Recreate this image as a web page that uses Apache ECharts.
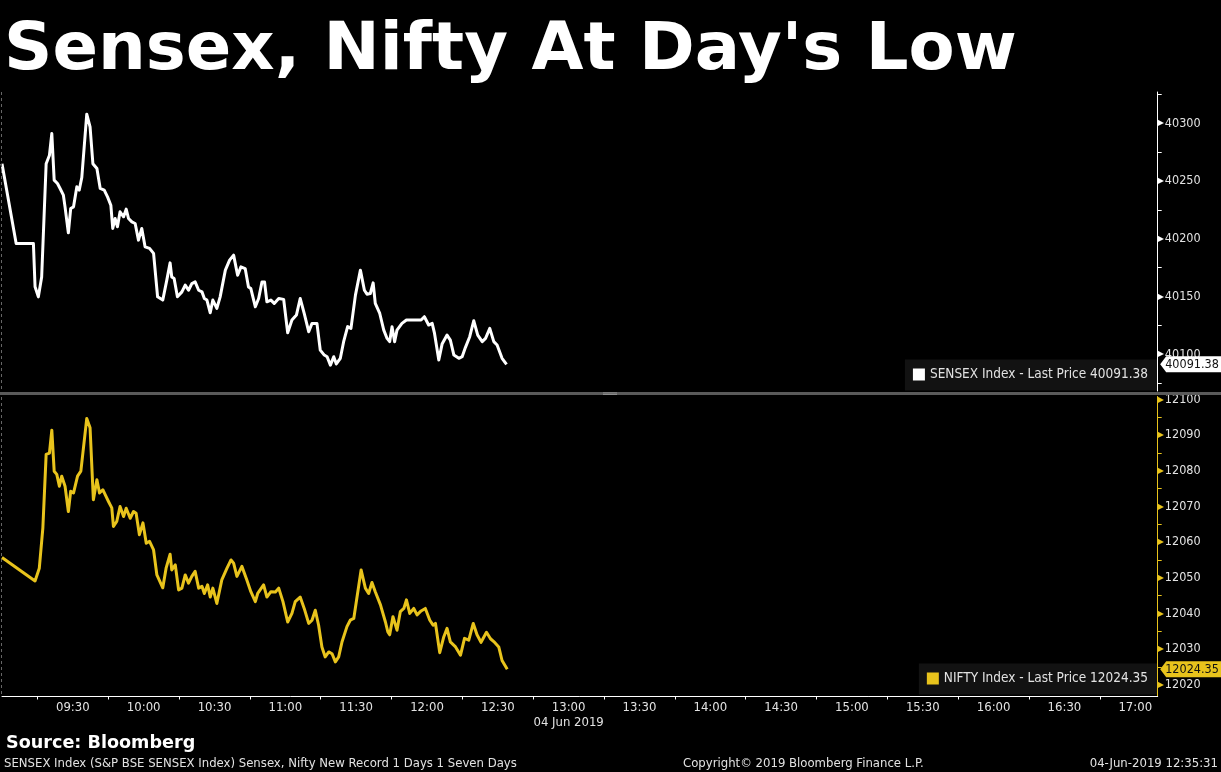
<!DOCTYPE html>
<html>
<head>
<meta charset="utf-8">
<script src="https://cdn.jsdelivr.net/npm/echarts@6/dist/echarts.min.js"></script>
<style>
html,body{margin:0;padding:0;background:#000;}
#chart{width:1221px;height:772px;}
</style>
</head>
<body>
<div id="chart"></div>
<script>
// ---- DATA (times are minutes since midnight, 04 Jun 2019) ----
const sensexTimes = [540,546.0,553.3,554.0,555.4,556.8,558.7,560.1,561.1,562.1,563.5,564.6,566.0,566.7,568.1,569.1,570.3,571.7,572.7,573.8,575.9,577.3,578.5,580.2,581.6,583.3,584.7,586.1,586.9,587.9,588.9,590.0,591.5,592.6,593.6,595.0,596.4,597.8,599.2,600.6,602.5,604.2,605.9,608.1,609.8,611.2,611.9,612.9,614.3,616.2,617.6,619.0,620.4,621.8,623.3,624.7,625.7,626.8,628.2,629.3,631.0,632.4,634.6,636.4,638.1,639.8,641.2,643.0,644.4,645.4,647.3,648.7,650.1,651.2,652.2,653.9,655.3,657.2,659.3,661.0,662.8,664.7,666.3,668.0,669.9,671.3,673.4,674.8,676.5,677.7,679.1,680.5,681.6,683.3,684.7,686.4,687.8,689.7,691.8,693.5,694.6,696.0,697.2,698.1,700.0,701.7,703.1,704.2,705.2,706.3,707.3,709.4,711.3,714.4,717.5,718.9,720.7,722.2,723.2,725.0,726.4,728.5,729.9,731.4,733.5,734.9,736.3,738.1,739.8,741.5,743.4,744.8,746.6,748.3,749.7,751.8,753.7];
const sensexValues = [40265,40196,40196,40158.5,40149.8,40167,40265,40272.4,40291.2,40250.8,
40247.9,40243.6,40237.8,40227.7,40205.2,40226.3,40227.7,40245,40242.2,40253.1,
40307.9,40296.9,40265,40260.9,40243.6,40242.2,40236.3,40229.1,40209,40217.6,
40210.4,40223.4,40219.1,40225.7,40217.6,40214.7,40213.3,40198.9,40209,40193.1,
40191.7,40187.4,40149.8,40147,40164.3,40179.2,40167,40165.6,40149.8,40154.1,
40159.9,40155.5,40161.3,40162.7,40155.5,40154.1,40148.4,40147,40136,40147,
40139.8,40149.8,40172.9,40181.6,40185.9,40168.5,40175.7,40174.3,40158.4,40157,
40141.2,40148.4,40162.7,40162.7,40145.5,40147,40144.1,40148.4,40147.6,40118.7,
40129.7,40134,40148.4,40135.4,40119.6,40126.8,40126.8,40103.7,40099.4,40098,
40090.7,40098,40091.7,40096.6,40111,40124,40122.5,40151.3,40172.9,40155.5,
40152.1,40152.7,40161.9,40144.1,40135.4,40121,40113.8,40111,40124,40111,
40121,40126.8,40129.7,40129.7,40129.7,40132.6,40125.4,40126.8,40118.1,40095.1,
40108.9,40116.7,40112.4,40099.4,40096.6,40098,40106.1,40115.3,40129.1,40116.7,
40111,40113.8,40122.5,40111,40108.1,40096.6,40091.38];

const niftyTimes = [540,554.0,555.8,557.3,558.7,560.1,561.1,562.1,563.2,564.3,565.3,566.7,568.1,569.1,570.3,572.0,573.4,575.9,577.3,578.7,580.2,581.3,582.7,583.7,585.1,586.5,587.2,588.6,590.0,591.5,592.6,594.3,595.7,596.8,598.2,599.7,601.1,602.5,604.2,605.6,608.1,609.5,611.2,611.9,613.4,614.8,616.2,617.6,619.0,620.4,621.8,623.3,624.7,625.7,627.1,628.2,629.3,631.0,633.1,635.3,637.0,638.1,639.5,641.6,643.7,645.4,647.3,648.3,650.8,652.2,653.9,655.8,657.2,659.0,661.0,662.8,664.2,666.3,668.0,669.9,671.3,672.7,674.1,675.5,676.9,678.4,679.8,681.2,682.6,684.0,686.1,687.5,689.0,692.1,693.9,695.3,696.7,698.1,700.3,702.4,703.4,704.2,705.6,707.3,708.7,710.2,711.3,712.7,714.4,715.8,717.5,719.3,721.2,722.6,723.6,725.4,727.1,728.5,729.9,732.1,734.2,735.9,737.7,739.6,741.2,742.9,745.2,746.9,748.3,750.4,751.8,754.0];
const niftyValues = [12055.7,12049.1,12052.7,12063.9,12084.6,12085,12091.4,12079.9,12079,12075.7,
12078.5,12075.7,12068.6,12074.3,12073.8,12078.5,12079.9,12094.7,12092.1,12071.9,
12077.5,12073.8,12074.7,12073.3,12071.4,12069.6,12064.4,12065.8,12070,12067.2,
12069.5,12066.7,12068.6,12068.1,12062.1,12065.4,12059.7,12060.2,12057.8,12050.8,
12047.2,12052.7,12056.6,12052.2,12053.6,12046.6,12047.1,12050.8,12048.5,12050.4,
12051.8,12047.1,12047.6,12045.6,12048,12044.6,12047.1,12042.8,12049.4,12052.7,
12055,12054.1,12050.4,12053.2,12049.4,12046.1,12043.3,12045.6,12048,12044.6,
12046.1,12046,12047.1,12043.3,12037.6,12040,12043.3,12044.6,12041.4,12037.2,
12038.1,12040.9,12036.7,12030.6,12027.8,12029.2,12028.7,12026.4,12027.8,12032,
12036.3,12038.1,12038.6,12052.2,12047.1,12045.6,12048.7,12046.1,12042.4,12037.6,
12034.9,12034,12039.1,12035.3,12040.5,12041.4,12043.8,12040,12041.4,12039.6,
12040.7,12041.4,12038.1,12036.7,12037.2,12029,12033.4,12035.8,12032,12030.6,
12028.3,12033,12032.5,12037.2,12034,12031.9,12034.7,12032.9,12032.1,12030.6,
12026.8,12024.35];

// axis ticks / labels
const timeLabels = [570,600,630,660,690,720,750,780,810,840,870,900,930,960,990,1020];
const timeTicks = [555,585,615,645,675,705,735,765,795,825,855,885,915,945,975,1005];
const sensexLabels = [40100,40150,40200,40250,40300];
const sensexTicks = [40075,40100,40125,40150,40175,40200,40225,40250,40275,40300,40325];
const niftyLabels = [12020,12030,12040,12050,12060,12070,12080,12090,12100];
const niftyTicks = [12020,12025,12030,12035,12040,12045,12050,12055,12060,12065,12070,12075,12080,12085,12090,12095,12100];

const titleText = "Sensex, Nifty At Day's Low";
const sourceText = 'Source: Bloomberg';
const footerLeft = 'SENSEX Index (S&P BSE SENSEX Index) Sensex, Nifty New Record 1 Days 1 Seven Days';
const footerMid = 'Copyright\u00A9 2019 Bloomberg Finance L.P.';
const footerRight = '04-Jun-2019 12:35:31';
const dateLabel = '04 Jun 2019';

// ---- CHART ----
const WHITE = '#ffffff';
const YELLOW = '#e8c31c';
const TXT = '#e2e2e2';
const FONT = '"DejaVu Sans Condensed", "DejaVu Sans", sans-serif';
const SMALL = '13px "DejaVu Sans Condensed", "DejaVu Sans"';

function zip(a, b) { return a.map((t, i) => [t, b[i]]); }
function hhmm(v) {
  const h = Math.floor(v / 60), m = Math.round(v % 60);
  return String(h).padStart(2, '0') + ':' + String(m).padStart(2, '0');
}
const sensexLast = sensexValues[sensexValues.length - 1];
const niftyLast = niftyValues[niftyValues.length - 1];

const chart = echarts.init(document.getElementById('chart'), null, { renderer: 'canvas' });

function yAxisDef(grid, min, max, ticks, labels, color) {
  return {
    type: 'value', gridIndex: grid, position: 'right', min: min, max: max,
    axisLine: { show: true, lineStyle: { color: color, width: 1 } },
    axisTick: { show: true, customValues: ticks, length: 4, inside: false, lineStyle: { color: color, width: 1 } },
    axisLabel: {
      customValues: labels, margin: 0, fontFamily: FONT,
      formatter: v => '{t|\u25B6}{v|' + v + '}',
      rich: {
        t: { color: color, fontSize: 8, fontFamily: 'DejaVu Sans' },
        v: { color: TXT, fontSize: 12.5, fontFamily: FONT, padding: [0, 0, 0, 1] }
      }
    },
    splitLine: { show: false }
  };
}

const legendBase = {
  right: 64, orient: 'horizontal', backgroundColor: '#121212', padding: [8, 9, 9, 8],
  icon: 'rect', itemWidth: 12, itemHeight: 12, selectedMode: false,
  textStyle: { color: TXT, fontSize: 13.5, fontFamily: FONT }
};

const option = {
  backgroundColor: '#000',
  animation: false,
  textStyle: { fontFamily: FONT },
  grid: [
    { left: 2, right: 63.3, top: 92, height: 299 },
    { left: 2, right: 63.3, top: 396.5, height: 300 }
  ],
  xAxis: [
    { type: 'value', gridIndex: 0, min: 540, max: 1029.5,
      axisLine: { show: false }, axisTick: { show: false }, axisLabel: { show: false }, splitLine: { show: false } },
    { type: 'value', gridIndex: 1, min: 540, max: 1029.5,
      axisLine: { show: true, onZero: false, lineStyle: { color: WHITE, width: 1 } },
      axisTick: { show: true, customValues: timeTicks, length: 3, lineStyle: { color: WHITE } },
      axisLabel: {
        customValues: timeLabels, margin: 4, color: TXT, fontSize: 13, fontFamily: FONT, lineHeight: 15,
        formatter: v => v === 780 ? hhmm(v) + '\n' + dateLabel : hhmm(v)
      },
      splitLine: { show: false } }
  ],
  yAxis: [
    yAxisDef(0, 40068.3, 40327.1, sensexTicks, sensexLabels, WHITE),
    yAxisDef(1, 12016.7, 12100.85, niftyTicks, niftyLabels, YELLOW)
  ],
  legend: [
    Object.assign({}, legendBase, { data: ['SENSEX Index'], top: 359.5,
      formatter: n => n + ' - Last Price ' + sensexLast.toFixed(2) }),
    Object.assign({}, legendBase, { data: ['NIFTY Index'], top: 663.5,
      formatter: n => n + ' - Last Price ' + niftyLast.toFixed(2) })
  ],
  series: [
    { name: 'SENSEX Index', type: 'line', xAxisIndex: 0, yAxisIndex: 0,
      data: zip(sensexTimes, sensexValues), showSymbol: false, symbol: 'none',
      itemStyle: { color: WHITE }, lineStyle: { color: WHITE, width: 3, join: 'round' }, z: 3 },
    { name: 'NIFTY Index', type: 'line', xAxisIndex: 1, yAxisIndex: 1,
      data: zip(niftyTimes, niftyValues), showSymbol: false, symbol: 'none',
      itemStyle: { color: YELLOW }, lineStyle: { color: YELLOW, width: 3, join: 'round' }, z: 3 }
  ]
};
chart.setOption(option);

// last-price tags positioned through the library's own y scales
const axisX = chart.convertToPixel({ xAxisIndex: 1 }, 1029.5);
function tag(id, yPix, value, bg) {
  const x0 = axisX + 2.5;
  return [
    { type: 'polygon', id: id + 'p', z: 20,
      shape: { points: [[x0, yPix], [x0 + 6, yPix - 8], [1221, yPix - 8], [1221, yPix + 8], [x0 + 6, yPix + 8]] },
      style: { fill: bg } },
    { type: 'text', id: id + 't', z: 21,
      style: { x: x0 + 5, y: yPix + 0.5, text: value.toFixed(2), fill: '#111', verticalAlign: 'middle', font: '12.5px "DejaVu Sans Condensed", "DejaVu Sans"' } }
  ];
}
const ySensex = chart.convertToPixel({ yAxisIndex: 0 }, sensexLast);
const yNifty = chart.convertToPixel({ yAxisIndex: 1 }, niftyLast);

const graphics = [
  { type: 'text', id: 'title', z: 10, scaleX: 1.018, x: 4, y: 0,
    style: { x: 0, y: 52, text: titleText, fill: '#fff', verticalAlign: 'middle', font: 'bold 66px "DejaVu Sans"' } },
  { type: 'rect', id: 'sep', z: 5, shape: { x: 0, y: 392, width: 1221, height: 3 }, style: { fill: '#5a5a5a' } },
  { type: 'rect', id: 'h1', z: 6, shape: { x: 603, y: 392.5, width: 14, height: 0.8 }, style: { fill: '#9a9a9a' } },
  { type: 'rect', id: 'h2', z: 6, shape: { x: 603, y: 394, width: 14, height: 0.8 }, style: { fill: '#9a9a9a' } },
  { type: 'line', id: 'd1', z: 5, shape: { x1: 1.5, y1: 92, x2: 1.5, y2: 391 }, style: { stroke: '#666', lineWidth: 1, lineDash: [3, 3] } },
  { type: 'line', id: 'd2', z: 5, shape: { x1: 1.5, y1: 397, x2: 1.5, y2: 696 }, style: { stroke: '#666', lineWidth: 1, lineDash: [3, 3] } },
  { type: 'text', id: 'src', z: 10, style: { x: 6, y: 743.5, text: sourceText, fill: '#fff', verticalAlign: 'middle', font: 'bold 17.6px "DejaVu Sans"' } },
  { type: 'text', id: 'f1', z: 10, style: { x: 4, y: 763.5, text: footerLeft, fill: TXT, verticalAlign: 'middle', font: SMALL } },
  { type: 'text', id: 'f2', z: 10, style: { x: 683, y: 763.5, text: footerMid, fill: TXT, verticalAlign: 'middle', font: SMALL } },
  { type: 'text', id: 'f3', z: 10, style: { x: 1218, y: 763.5, text: footerRight, fill: TXT, verticalAlign: 'middle', align: 'right', font: SMALL } }
].concat(tag('ts', ySensex, sensexLast, WHITE), tag('tn', yNifty, niftyLast, YELLOW));

chart.setOption({ graphic: graphics });
</script>
</body>
</html>
